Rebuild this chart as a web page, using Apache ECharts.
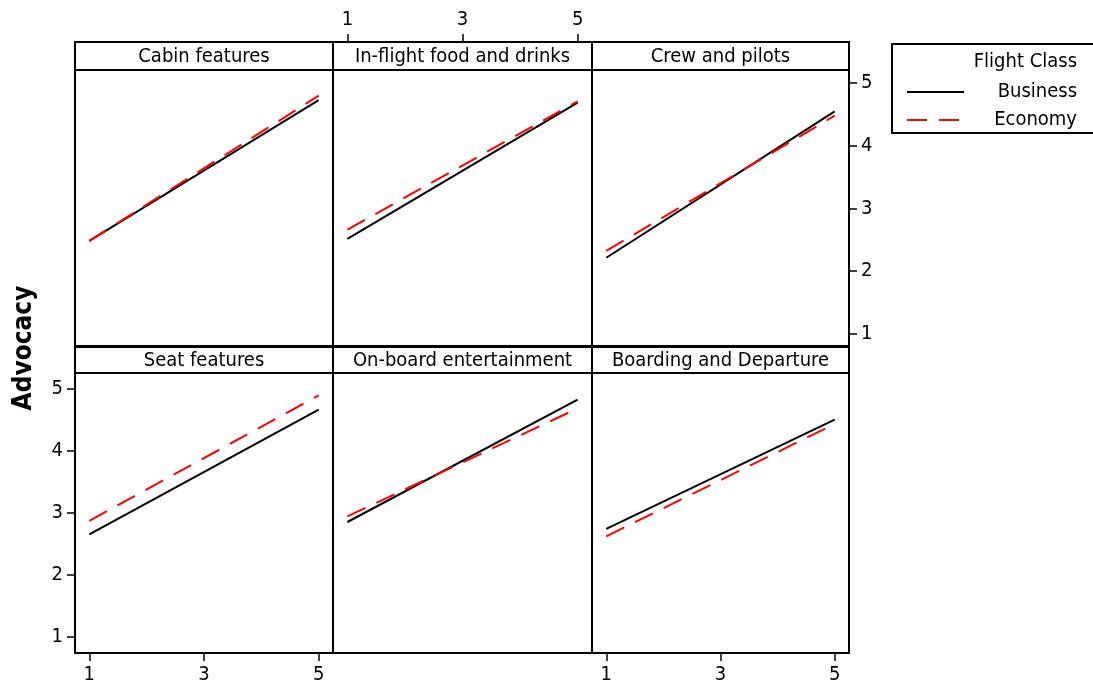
<!DOCTYPE html>
<html>
<head>
<meta charset="utf-8">
<script src="https://cdn.jsdelivr.net/npm/echarts@6/dist/echarts.min.js"></script>
<style>
  html, body { margin: 0; padding: 0; background: #fff; }
  #main { width: 1093px; height: 687px; }
</style>
</head>
<body>
<div id="main"></div>
<script>
// panel titles, in reading order (row 1 then row 2)
const panels = ['Cabin features', 'In-flight food and drinks', 'Crew and pilots',
  'Seat features', 'On-board entertainment', 'Boarding and Departure'];
const xVals = [1, 5];
const xTicks = [1, 3, 5];
const yTicks = [1, 2, 3, 4, 5];
// advocacy at x = 1 and x = 5, per panel
const business = [[2.48, 4.73], [2.51, 4.69], [2.21, 4.55], [2.65, 4.66], [2.85, 4.82], [2.74, 4.50]];
const economy = [[2.48, 4.80], [2.66, 4.71], [2.32, 4.48], [2.87, 4.89], [2.94, 4.68], [2.62, 4.43]];

const FONT = "'DejaVu Sans Condensed', 'DejaVu Sans', sans-serif";
const chart = echarts.init(document.getElementById('main'));

const colLeft = [75, 333, 592];
const colWidth = [258, 259, 257];
const rowTop = [70, 373];
const rowHeight = [276, 280];
const rowY = [[0.8, 5.21], [0.74, 5.25]];
const stripTop = [42, 347];

let grids = [], xAxes = [], yAxes = [], series = [], graphics = [];

panels.forEach(function (name, i) {
  const r = Math.floor(i / 3), c = i % 3;
  grids.push({
    left: colLeft[c], top: rowTop[r], width: colWidth[c], height: rowHeight[r],
    show: true, borderColor: '#000', borderWidth: 2, backgroundColor: '#fff'
  });
  // which panels carry scales
  const xTop = (i === 1), xBottom = (i === 3 || i === 5);
  const yRight = (i === 2), yLeft = (i === 3);
  const showX = xTop || xBottom, showY = yRight || yLeft;
  xAxes.push({
    type: 'value', gridIndex: i, min: 0.75, max: 5.25,
    position: xTop ? 'top' : 'bottom',
    offset: xTop ? 28 : 0,
    axisLine: { show: false },
    splitLine: { show: false },
    axisTick: { show: showX, length: 8, customValues: xTicks, lineStyle: { color: '#000', width: 1.5 } },
    axisLabel: { show: showX, customValues: xTicks, color: '#000', fontSize: 20, fontFamily: FONT, margin: 12 }
  });
  yAxes.push({
    type: 'value', gridIndex: i, min: rowY[r][0], max: rowY[r][1],
    position: yRight ? 'right' : 'left',
    axisLine: { show: false },
    splitLine: { show: false },
    axisTick: { show: showY, length: 8, customValues: yTicks, lineStyle: { color: '#000', width: 1.5 } },
    axisLabel: { show: showY, customValues: yTicks, color: '#000', fontSize: 20, fontFamily: FONT, margin: 12 }
  });
  series.push({
    name: 'Business', type: 'line', xAxisIndex: i, yAxisIndex: i,
    data: xVals.map(function (x, k) { return [x, business[i][k]]; }),
    showSymbol: false, silent: true, z: 3,
    lineStyle: { color: '#000', width: 2 }, itemStyle: { color: '#000' }
  });
  series.push({
    name: 'Economy', type: 'line', xAxisIndex: i, yAxisIndex: i,
    data: xVals.map(function (x, k) { return [x, economy[i][k]]; }),
    showSymbol: false, silent: true, z: 4,
    lineStyle: { color: '#f00', width: 2, type: [20, 12] }, itemStyle: { color: '#f00' }
  });
  // strip header
  graphics.push({
    type: 'rect', shape: { x: colLeft[c], y: stripTop[r], width: colWidth[c], height: rowTop[r] - stripTop[r] },
    style: { fill: '#fff', stroke: '#000', lineWidth: 2 }
  });
  graphics.push({
    type: 'text', x: colLeft[c] + colWidth[c] / 2, y: (stripTop[r] + rowTop[r]) / 2 + 1,
    style: { text: name, fill: '#000', font: '20px ' + FONT, textAlign: 'center', textVerticalAlign: 'middle' }
  });
});

// y axis title
graphics.push({
  type: 'text', x: 24, y: 348, rotation: Math.PI / 2,
  style: { text: 'Advocacy', fill: '#000', font: 'bold 26px ' + FONT, textAlign: 'center', textVerticalAlign: 'middle' }
});
// legend frame and title
graphics.push({
  type: 'rect', shape: { x: 892, y: 44, width: 230, height: 89 },
  style: { fill: 'none', stroke: '#000', lineWidth: 2 }
});
graphics.push({
  type: 'text', x: 1077, y: 62,
  style: { text: 'Flight Class', fill: '#000', font: '20px ' + FONT, textAlign: 'right', textVerticalAlign: 'middle' }
});

chart.setOption({
  animation: false,
  backgroundColor: '#fff',
  grid: grids,
  xAxis: xAxes,
  yAxis: yAxes,
  series: series,
  legend: {
    data: ['Business', 'Economy'],
    orient: 'vertical', left: 901, top: 77,
    itemWidth: 57, itemHeight: 20, itemGap: 8,
    selectedMode: false,
    itemStyle: { opacity: 0 },
    formatter: function (name) { return '{t|' + name + '}'; },
    textStyle: {
      fontSize: 20, fontFamily: FONT, color: '#000',
      rich: { t: { width: 108, align: 'right', fontSize: 20, fontFamily: FONT, color: '#000' } }
    }
  },
  graphic: graphics
});
</script>
</body>
</html>
